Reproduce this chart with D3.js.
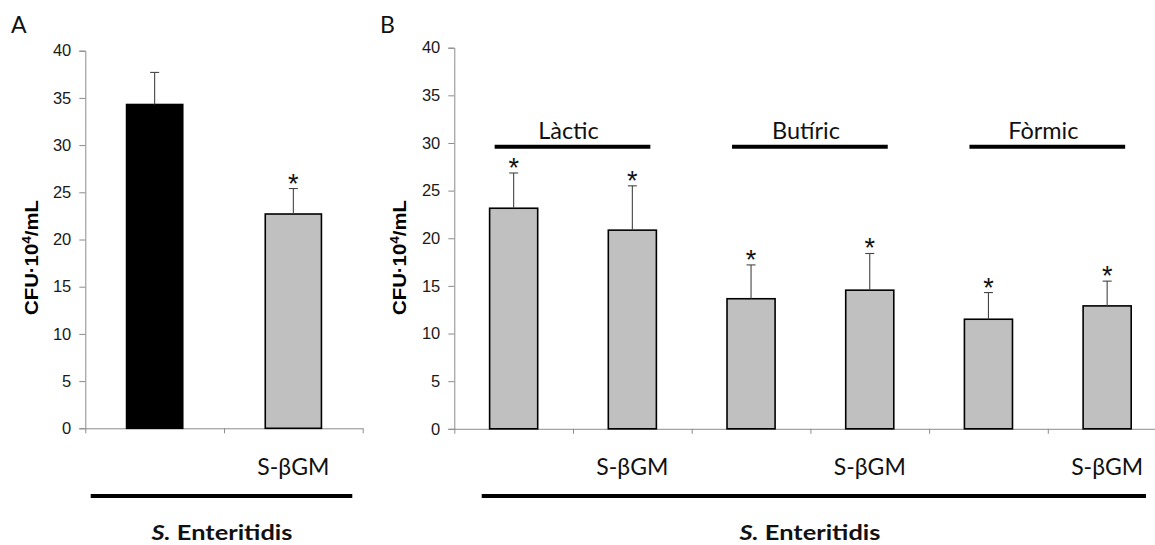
<!DOCTYPE html>
<html><head><meta charset="utf-8">
<script src="https://cdn.jsdelivr.net/npm/d3@7/dist/d3.min.js"></script>
<style>body{margin:0;background:#fff} svg{display:block;background:#fff}</style>
</head><body>
<svg id="chart" width="1155" height="545"></svg>
<script>
// ---------- data ----------
const yTicks = [0, 5, 10, 15, 20, 25, 30, 35, 40];
const catsA = ["", "S-βGM"];
const valsA = [34.3, 22.7];
const errA = [3.4, 2.7];
const fillA = ["#000000", "#c0c0c0"];
const starA = [false, true];

const catsB = ["", "S-βGM", "", "S-βGM", "", "S-βGM"];
const valsB = [23.15, 20.85, 13.65, 14.55, 11.5, 12.9];
const errB = [3.7, 4.65, 3.55, 3.85, 2.8, 2.6];
const fillB = ["#c0c0c0", "#c0c0c0", "#c0c0c0", "#c0c0c0", "#c0c0c0", "#c0c0c0"];
const starB = [true, true, true, true, true, true];
const groupsB = ["Làctic", "Butíric", "Fòrmic"];
const groupLineValue = 29.6;

const panelLetters = ["A", "B"];
const yTitleMain = "CFU·10", yTitleSup = "4", yTitleEnd = "/mL";
const bottomItalic = "S.", bottomRest = " Enteritidis";

// ---------- drawing ----------
const svg = d3.select("#chart");
const LABEL_FONT = "Lato, 'Open Sans', sans-serif";
const AXIS_FONT = "'Liberation Sans', Arial, sans-serif";

function panel(o) {
  const g = svg.append("g");
  const n = o.cats.length;
  const y = d3.scaleLinear().domain([0, 40]).range([o.yBottom, o.yTop]);
  const xIdx = d3.scaleLinear().domain([0, n]).range([o.x0, o.x1]);
  const xb = d3.scaleBand().domain(d3.range(n)).range([o.x0, o.x1])
    .paddingInner(0.595).paddingOuter(0.2975);
  const cx = i => xb(i) + xb.bandwidth() / 2;

  // y axis
  const ya = g.append("g").attr("transform", `translate(${o.x0},0)`)
    .call(d3.axisLeft(y).tickValues(yTicks).tickSize(6).tickPadding(8));
  ya.selectAll("path,line").attr("stroke", "#8c8c8c").attr("stroke-width", 1);
  ya.selectAll("text").attr("font-family", AXIS_FONT).attr("font-size", 16.5).attr("fill", "#1a1a1a");

  // x axis (Excel style ticks at category boundaries)
  const xa = g.append("g").attr("transform", `translate(0,${o.yBottom})`)
    .call(d3.axisBottom(xIdx).tickValues(d3.range(n + 1)).tickFormat("").tickSizeInner(5).tickSizeOuter(0));
  xa.selectAll("path,line").attr("stroke", "#8c8c8c").attr("stroke-width", 1);

  // bars
  const data = o.vals.map((v, i) => ({ v, e: o.errs[i], f: o.fills[i], s: o.stars[i], c: o.cats[i], i }));
  g.selectAll("rect.bar").data(data).join("rect").attr("class", "bar")
    .attr("x", d => xb(d.i)).attr("width", xb.bandwidth())
    .attr("y", d => y(d.v)).attr("height", d => y(0) - y(d.v))
    .attr("fill", d => d.f).attr("stroke", "#000").attr("stroke-width", 1.6);

  // error bars
  g.selectAll("line.err").data(data).join("line").attr("class", "err")
    .attr("x1", d => cx(d.i)).attr("x2", d => cx(d.i))
    .attr("y1", d => y(d.v)).attr("y2", d => y(d.v + d.e))
    .attr("stroke", "#444").attr("stroke-width", 1.1);
  g.selectAll("line.cap").data(data).join("line").attr("class", "cap")
    .attr("x1", d => cx(d.i) - 4.5).attr("x2", d => cx(d.i) + 4.5)
    .attr("y1", d => y(d.v + d.e)).attr("y2", d => y(d.v + d.e))
    .attr("stroke", "#444").attr("stroke-width", 1.1);

  // asterisks
  g.selectAll("text.star").data(data.filter(d => d.s)).join("text").attr("class", "star")
    .attr("x", d => cx(d.i)).attr("y", d => y(d.v + d.e) + 4)
    .attr("text-anchor", "middle").attr("font-family", AXIS_FONT)
    .attr("font-size", 27).attr("fill", "#111").text("*");

  // category labels
  g.selectAll("text.cat").data(data.filter(d => d.c)).join("text").attr("class", "cat")
    .attr("x", d => cx(d.i)).attr("y", 475)
    .attr("text-anchor", "middle").attr("font-family", LABEL_FONT)
    .attr("font-size", 23).attr("fill", "#111").text(d => d.c);

  // group annotations
  if (o.groups) {
    const yl = y(groupLineValue);
    o.groups.forEach((name, k) => {
      const xa1 = cx(2 * k) - 19, xa2 = cx(2 * k + 1) + 18;
      g.append("line").attr("x1", xa1).attr("x2", xa2).attr("y1", yl).attr("y2", yl)
        .attr("stroke", "#000").attr("stroke-width", 4);
      g.append("text").attr("x", (xa1 + xa2) / 2 - 4).attr("y", yl - 7.5)
        .attr("text-anchor", "middle").attr("font-family", LABEL_FONT)
        .attr("font-size", 23.5).attr("fill", "#111").text(name);
    });
  }

  // bottom bracket line and label
  g.append("line").attr("x1", o.lineX0).attr("x2", o.lineX1).attr("y1", 496).attr("y2", 496)
    .attr("stroke", "#000").attr("stroke-width", 4);
  const bt = g.append("text").attr("x", o.labelCx).attr("y", 540)
    .attr("text-anchor", "middle").attr("font-family", LABEL_FONT)
    .attr("font-weight", "bold").attr("font-size", 20).attr("fill", "#111")
    .attr("textLength", 141).attr("lengthAdjust", "spacingAndGlyphs");
  bt.append("tspan").attr("font-style", "italic").text(bottomItalic);
  bt.append("tspan").text(bottomRest);

  // y title
  const yt = g.append("text")
    .attr("transform", `translate(${o.titleX},${o.titleY}) rotate(-90)`)
    .attr("text-anchor", "middle").attr("font-family", AXIS_FONT)
    .attr("font-weight", "bold").attr("font-size", 18).attr("fill", "#000")
    .attr("textLength", 115).attr("lengthAdjust", "spacingAndGlyphs");
  yt.append("tspan").text(yTitleMain);
  yt.append("tspan").attr("dy", -7).attr("font-size", 12).text(yTitleSup);
  yt.append("tspan").attr("dy", 7).text(yTitleEnd);

  // panel letter
  g.append("text").attr("x", o.letterX).attr("y", 33)
    .attr("font-family", LABEL_FONT).attr("font-size", 23).attr("fill", "#111").text(o.letter);
}

panel({ letter: panelLetters[0], letterX: 11, cats: catsA, vals: valsA, errs: errA, fills: fillA, stars: starA,
  x0: 85.3, x1: 362.7, yTop: 50.7, yBottom: 428.3,
  lineX0: 90.7, lineX1: 352.3, labelCx: 222, titleX: 37.5, titleY: 257.5 });

panel({ letter: panelLetters[1], letterX: 380, cats: catsB, vals: valsB, errs: errB, fills: fillB, stars: starB,
  groups: groupsB,
  x0: 454.3, x1: 1166.5, yTop: 47.7, yBottom: 428.8,
  lineX0: 481.7, lineX1: 1146, labelCx: 810, titleX: 405.5, titleY: 257.5 });
</script>
</body></html>
